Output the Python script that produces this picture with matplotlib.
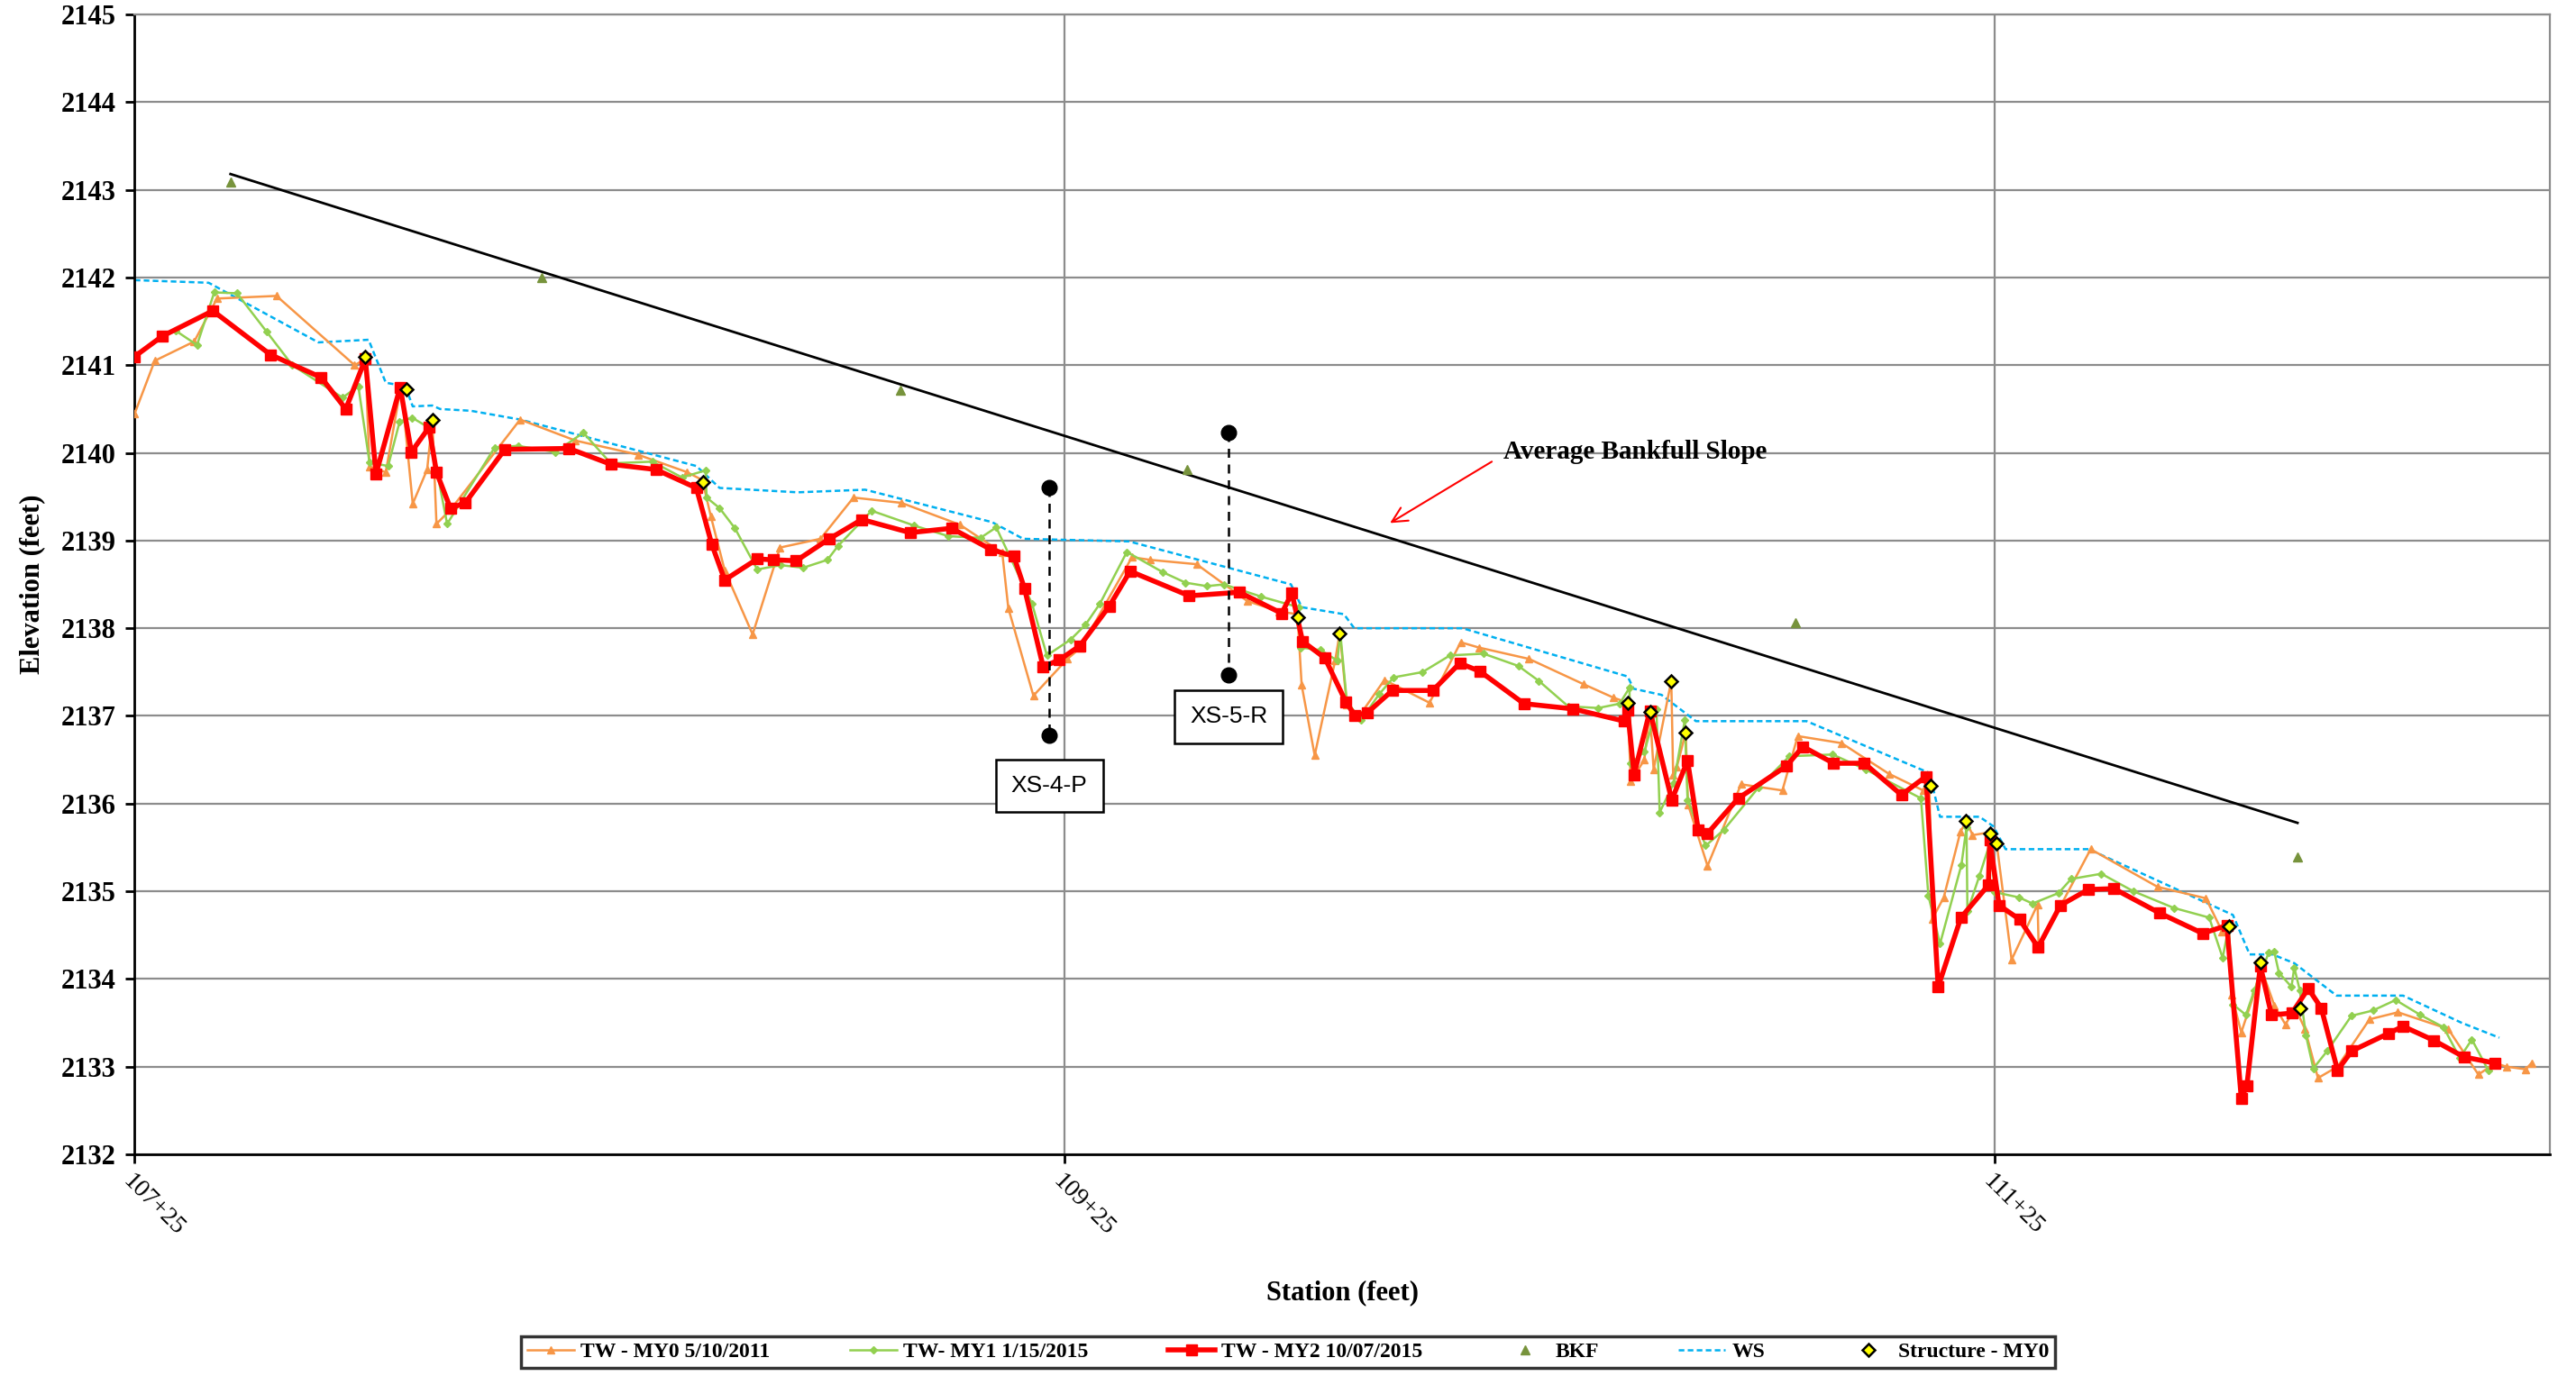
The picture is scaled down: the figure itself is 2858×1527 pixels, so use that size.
import matplotlib
matplotlib.use('Agg')
import numpy as np
import matplotlib.pyplot as plt

plt.rcParams['font.family'] = ['Liberation Serif', 'DejaVu Serif']

# TW - MY0 5/10/2011
my0_st = [10725.0, 10729.3, 10737.8, 10742.7, 10755.5, 10772.3, 10774.6, 10775.5, 10779.0, 10782.3,
          10784.8, 10787.9, 10789.0, 10789.9, 10792.9, 10807.9, 10819.8, 10833.2, 10843.8, 10847.1,
          10848.9, 10851.9, 10857.9, 10863.8, 10872.5, 10879.6, 10889.9, 10902.5, 10911.6, 10912.9,
          10918.3, 10925.6, 10928.5, 10939.5, 10943.4, 10953.4, 10964.3, 10971.2, 10975.1, 10976.0,
          10978.8, 10983.2, 10984.2, 10985.7, 10988.4, 10993.8, 11003.5, 11010.2, 11014.1, 11024.9,
          11036.7, 11043.0, 11046.1, 11046.8, 11049.7, 11050.9, 11051.7, 11055.5, 11055.9, 11056.7,
          11058.6, 11059.1, 11063.3, 11070.5, 11079.4, 11082.7, 11092.1, 11102.3, 11109.7, 11111.0,
          11111.6, 11114.1, 11117.7, 11119.0, 11120.3, 11123.7, 11125.5, 11128.7, 11134.3, 11134.5,
          11139.3, 11145.7, 11160.1, 11170.5, 11174.0, 11175.4, 11176.0, 11178.1, 11181.1, 11182.2,
          11185.2, 11187.6, 11189.7, 11191.8, 11194.6, 11198.8, 11205.7, 11211.8, 11222.6, 11229.1,
          11232.7, 11235.1, 11239.3, 11240.5]
my0_el = [2140.45, 2141.05, 2141.27, 2141.76, 2141.79, 2141.00, 2141.07, 2139.84, 2139.78, 2140.77,
          2139.42, 2139.81, 2140.38, 2139.19, 2139.35, 2140.38, 2140.14, 2139.98, 2139.78, 2139.69,
          2139.28, 2138.66, 2137.93, 2138.92, 2139.02, 2139.49, 2139.43, 2139.18, 2138.86, 2138.23,
          2137.23, 2137.65, 2137.78, 2138.81, 2138.78, 2138.73, 2138.31, 2138.19, 2138.16, 2137.35,
          2136.55, 2137.63, 2137.95, 2137.13, 2137.00, 2137.41, 2137.15, 2137.84, 2137.78, 2137.65,
          2137.36, 2137.21, 2137.15, 2136.25, 2136.50, 2137.05, 2136.39, 2137.40, 2136.33, 2136.42,
          2136.81, 2135.99, 2135.29, 2136.22, 2136.15, 2136.77, 2136.69, 2136.34, 2136.15, 2136.25,
          2134.68, 2134.93, 2135.68, 2135.80, 2135.64, 2135.67, 2135.54, 2134.22, 2134.85, 2134.40,
          2134.84, 2135.48, 2135.05, 2134.92, 2134.54, 2134.60, 2133.82, 2133.39, 2133.87, 2134.15,
          2133.70, 2133.48, 2133.67, 2133.43, 2132.87, 2133.00, 2133.54, 2133.62, 2133.43, 2132.91,
          2133.04, 2133.00, 2132.97, 2133.04]

# TW- MY1 1/15/2015
my1_st = [10733.9, 10738.4, 10742.1, 10747.0, 10753.4, 10758.9, 10769.7, 10773.1, 10775.5, 10779.5,
          10782.0, 10784.7, 10788.2, 10792.2, 10802.4, 10807.4, 10815.5, 10821.5, 10827.4, 10836.3,
          10842.7, 10847.8, 10848.0, 10850.8, 10854.1, 10858.9, 10863.9, 10868.8, 10874.0, 10876.3,
          10883.5, 10892.7, 10900.0, 10906.9, 10910.3, 10918.0, 10921.2, 10926.3, 10929.5, 10932.6,
          10938.4, 10946.1, 10951.0, 10955.6, 10959.3, 10967.3, 10975.3, 10975.8, 10980.1, 10983.7,
          10984.3, 10985.7, 10988.7, 10992.7, 10995.8, 11002.0, 11007.9, 11015.1, 11022.6, 11027.0,
          11033.3, 11039.8, 11044.4, 11046.5, 11046.8, 11049.7, 11052.3, 11053.0, 11056.0, 11058.4,
          11059.0, 11062.9, 11066.8, 11074.2, 11080.9, 11090.2, 11097.3, 11109.2, 11110.8, 11113.3,
          11117.9, 11119.0, 11119.2, 11121.8, 11124.1, 11125.1, 11130.3, 11133.2, 11138.8, 11141.5,
          11148.0, 11154.9, 11163.6, 11171.2, 11174.1, 11175.4, 11176.3, 11179.1, 11180.9, 11184.0,
          11185.2, 11186.2, 11188.9, 11189.5, 11190.7, 11192.0, 11193.6, 11196.6, 11201.8, 11206.4,
          11211.3, 11216.6, 11221.6, 11225.1, 11227.7, 11231.2]
my1_el = [2141.39, 2141.23, 2141.83, 2141.82, 2141.38, 2141.00, 2140.63, 2140.76, 2139.89, 2139.85,
          2140.36, 2140.40, 2140.29, 2139.19, 2140.06, 2140.08, 2140.01, 2140.23, 2139.88, 2139.90,
          2139.72, 2139.80, 2139.49, 2139.37, 2139.14, 2138.67, 2138.72, 2138.69, 2138.78, 2138.94,
          2139.34, 2139.17, 2139.05, 2139.03, 2139.15, 2138.28, 2137.69, 2137.87, 2138.04, 2138.28,
          2138.87, 2138.64, 2138.52, 2138.48, 2138.50, 2138.36, 2138.24, 2137.78, 2137.75, 2137.63,
          2137.95, 2137.17, 2136.95, 2137.25, 2137.44, 2137.50, 2137.69, 2137.71, 2137.57, 2137.40,
          2137.11, 2137.09, 2137.14, 2137.32, 2136.46, 2136.59, 2137.08, 2135.90, 2136.23, 2136.95,
          2136.04, 2135.52, 2135.70, 2136.18, 2136.54, 2136.56, 2136.39, 2136.06, 2134.95, 2134.40,
          2135.30, 2135.73, 2134.77, 2135.18, 2135.56, 2134.99, 2134.93, 2134.86, 2134.98, 2135.14,
          2135.20, 2135.00, 2134.81, 2134.70, 2134.24, 2134.60, 2133.71, 2133.59, 2133.87, 2134.30,
          2134.31, 2134.07, 2133.91, 2134.13, 2133.87, 2133.36, 2132.98, 2133.18, 2133.58, 2133.64,
          2133.76, 2133.59, 2133.45, 2133.10, 2133.31, 2132.96]

# TW - MY2 10/07/2015
my2_st = [10725.0, 10730.9, 10741.8, 10754.2, 10765.1, 10770.4, 10774.6, 10776.9, 10782.1, 10784.5,
          10788.3, 10789.9, 10792.9, 10796.1, 10804.6, 10818.4, 10827.4, 10837.1, 10845.8, 10849.1,
          10851.9, 10858.9, 10862.4, 10867.3, 10874.4, 10881.4, 10891.8, 10900.7, 10909.1, 10914.1,
          10916.4, 10920.4, 10923.9, 10928.3, 10934.6, 10939.1, 10951.8, 10962.6, 10971.7, 10973.9,
          10976.2, 10981.0, 10985.5, 10987.5, 10990.2, 10995.5, 11004.2, 11010.0, 11014.3, 11023.8,
          11034.4, 11045.4, 11046.1, 11047.5, 11050.9, 11055.6, 11059.0, 11061.3, 11063.3, 11069.9,
          11080.3, 11083.8, 11090.4, 11097.0, 11105.0, 11110.3, 11112.9, 11117.8, 11123.7, 11124.0,
          11126.0, 11130.4, 11134.4, 11139.2, 11145.2, 11150.7, 11160.6, 11169.8, 11175.0, 11178.1,
          11179.3, 11182.2, 11184.6, 11189.0, 11192.5, 11195.3, 11198.8, 11201.9, 11209.8, 11212.9,
          11219.5, 11226.0, 11232.7]
my2_el = [2141.10, 2141.33, 2141.62, 2141.12, 2140.86, 2140.50, 2141.07, 2139.76, 2140.75, 2140.01,
          2140.29, 2139.78, 2139.37, 2139.43, 2140.04, 2140.05, 2139.87, 2139.81, 2139.60, 2138.96,
          2138.55, 2138.79, 2138.78, 2138.77, 2139.02, 2139.24, 2139.09, 2139.14, 2138.90, 2138.82,
          2138.45, 2137.56, 2137.64, 2137.80, 2138.25, 2138.65, 2138.37, 2138.41, 2138.17, 2138.40,
          2137.85, 2137.66, 2137.16, 2137.00, 2137.04, 2137.29, 2137.29, 2137.60, 2137.51, 2137.14,
          2137.08, 2136.94, 2137.07, 2136.33, 2137.06, 2136.04, 2136.49, 2135.70, 2135.66, 2136.06,
          2136.43, 2136.65, 2136.46, 2136.46, 2136.10, 2136.31, 2133.91, 2134.70, 2135.07, 2135.59,
          2134.84, 2134.68, 2134.36, 2134.84, 2135.02, 2135.03, 2134.75, 2134.52, 2134.61, 2132.64,
          2132.78, 2134.15, 2133.59, 2133.61, 2133.89, 2133.67, 2132.96, 2133.18, 2133.38, 2133.46,
          2133.30, 2133.11, 2133.04]

# BKF
bkf_st = [10745.7, 10812.6, 10889.7, 10951.4, 11082.2, 11190.2]
bkf_el = [2143.09, 2142.00, 2140.71, 2139.81, 2138.06, 2135.39]

# WS
ws_st = [10725.0, 10740.9, 10764.5, 10775.3, 10779.0, 10783.2, 10784.8, 10789.0, 10790.7, 10797.3,
         10807.9, 10845.8, 10847.4, 10850.8, 10867.6, 10882.1, 10909.4, 10916.1, 10938.9, 10973.7,
         10976.0, 10985.1, 10987.3, 11010.6, 11046.1, 11047.4, 11053.4, 11060.8, 11084.6, 11111.0,
         11113.3, 11121.8, 11124.8, 11127.4, 11145.3, 11176.3, 11179.9, 11184.8, 11189.5, 11198.6,
         11212.9, 11225.5, 11233.6]
ws_el = [2141.97, 2141.94, 2141.26, 2141.29, 2140.80, 2140.76, 2140.53, 2140.54, 2140.50, 2140.48,
         2140.38, 2139.85, 2139.77, 2139.60, 2139.55, 2139.58, 2139.21, 2139.02, 2138.99, 2138.50,
         2138.24, 2138.16, 2138.00, 2138.00, 2137.45, 2137.31, 2137.24, 2136.94, 2136.94, 2136.35,
         2135.85, 2135.85, 2135.74, 2135.48, 2135.48, 2134.73, 2134.28, 2134.28, 2134.18, 2133.81,
         2133.81, 2133.50, 2133.33]

# Structure - MY0
str_st = [10774.6, 10783.5, 10789.0, 10847.3, 10975.2, 10984.2, 11046.2, 11050.9, 11055.4, 11058.6,
          11111.3, 11118.9, 11124.0, 11125.5, 11175.4, 11182.2, 11190.7]
str_el = [2141.09, 2140.73, 2140.38, 2139.67, 2138.13, 2137.94, 2137.15, 2137.05, 2137.40, 2136.81,
          2136.20, 2135.80, 2135.66, 2135.55, 2134.60, 2134.19, 2133.67]

# average bankfull slope line
slope_st = [10745.6, 11190.2]
slope_el = [2143.18, 2135.78]

# cross sections
xs_names = ['XS-4-P', 'XS-5-R']
xs_st = [10921.7, 10960.3]
xs_top = [2139.60, 2140.23]
xs_bot = [2136.78, 2137.47]
xs_lbl_el = [2136.20, 2136.99]

station_ticks = [10725, 10925, 11125]
station_labels = ['107+25', '109+25', '111+25']

fig = plt.figure(figsize=(28.58, 15.27), dpi=100)
ax = fig.add_axes([0.0523, 0.1611, 0.9376, 0.8284])

ax.plot(my0_st, my0_el, color='#F79646', lw=1.8, marker='^', ms=6, label='TW - MY0 5/10/2011', zorder=3)
ax.plot(my1_st, my1_el, color='#92D050', lw=1.8, marker='D', ms=4.5, label='TW- MY1 1/15/2015', zorder=4)
ax.plot(my2_st, my2_el, color='#FF0000', lw=4, marker='s', ms=9, label='TW - MY2 10/07/2015', zorder=5)
ax.plot(bkf_st, bkf_el, ls='none', color='#77933C', marker='^', ms=7, label='BKF', zorder=3)
ax.plot(ws_st, ws_el, color='#00B0F0', lw=1.8, ls=(0, (2.5, 1.5)), label='WS', zorder=2)
ax.plot(str_st, str_el, ls='none', marker='D', ms=7, mfc='#FFFF00', mec='black', mew=1.8,
        label='Structure - MY0', zorder=6)

ax.plot(slope_st, slope_el, color='black', lw=2, zorder=2)

for name, s, top, bot, ly in zip(xs_names, xs_st, xs_top, xs_bot, xs_lbl_el):
    ax.plot([s, s], [top, bot], color='black', lw=1.8, ls=(0, (4, 3)), zorder=6)
    ax.plot([s, s], [top, bot], ls='none', marker='o', ms=12, color='black', zorder=6)
    ax.text(s, ly, name, ha='center', va='center', fontsize=19, family=['Liberation Sans', 'DejaVu Sans'],
            bbox=dict(boxstyle='square,pad=0.65', fc='white', ec='black', lw=1.8), zorder=7)

# slope callout
ax.annotate('', xy=(10995, 2139.2), xytext=(11016.9, 2139.9),
            arrowprops=dict(arrowstyle='->', color='red', lw=1.5, mutation_scale=30,
                            shrinkA=0, shrinkB=0))
ax.text(11019.3, 2140.01, 'Average Bankfull Slope', fontsize=21, fontweight='bold', ha='left', va='center')

ax.set_xlim(10725, 11244.5)
ax.set_ylim(2132, 2145)
ax.set_yticks(np.arange(2132, 2146, 1))
ax.set_xticks(station_ticks)
ax.set_xticklabels(station_labels, rotation=-45, ha='left', va='top', rotation_mode='anchor', fontsize=20)
for t in ax.get_yticklabels():
    t.set_fontweight('bold')
    t.set_fontsize(22)
ax.tick_params(axis='both', direction='out', length=7, width=2, color='black')
ax.tick_params(axis='y', pad=8)
ax.tick_params(axis='x', pad=6)

ax.grid(True, color='#8C8C8C', lw=1.6)
ax.set_axisbelow(True)
for side in ['left', 'bottom']:
    ax.spines[side].set_color('black')
    ax.spines[side].set_linewidth(2)
for side in ['top', 'right']:
    ax.spines[side].set_color('#8C8C8C')
    ax.spines[side].set_linewidth(1.6)

ax.set_ylabel('Elevation (feet)', fontsize=22, fontweight='bold')
ax.yaxis.set_label_coords(-0.037, 0.5)
ax.set_xlabel('Station (feet)', fontsize=22, fontweight='bold')
ax.xaxis.set_label_coords(0.5, -0.11)

leg = fig.legend(loc='lower center', bbox_to_anchor=(0.198, -0.002, 0.604, 0.03), mode='expand',
                 ncol=6, prop={'weight': 'bold', 'size': 17}, frameon=True, fancybox=False,
                 handlelength=2.2, borderpad=0.3, handletextpad=0.3)
leg.get_frame().set_edgecolor('black')
leg.get_frame().set_linewidth(2.5)

fig.savefig('out.png', dpi=100)
